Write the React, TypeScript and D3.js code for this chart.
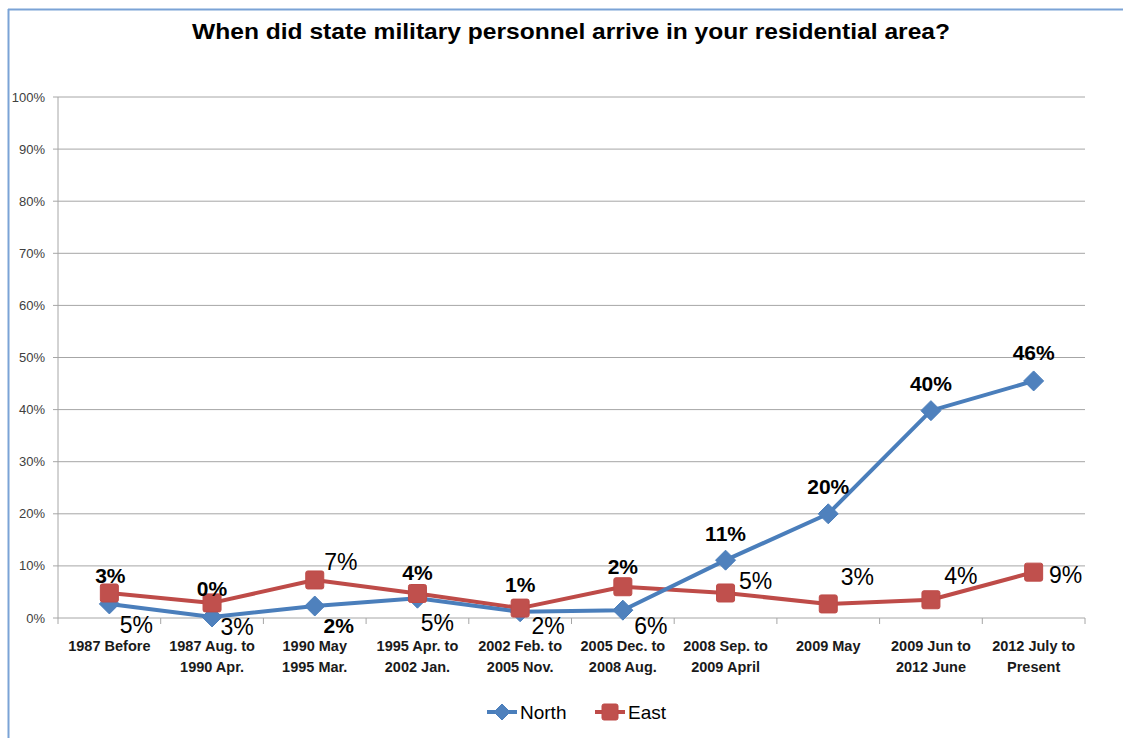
import React from "react";
import * as d3 from "d3";

const title = "When did state military personnel arrive in your residential area?";
const categories = [
  "1987 Before",
  "1987 Aug. to\n1990 Apr.",
  "1990 May\n1995 Mar.",
  "1995 Apr. to\n2002 Jan.",
  "2002 Feb. to\n2005 Nov.",
  "2005 Dec. to\n2008 Aug.",
  "2008 Sep. to\n2009 April",
  "2009 May",
  "2009 Jun to\n2012 June",
  "2012 July to\nPresent",
];
const northValues = [2.7, 0.2, 2.3, 3.8, 1.2, 1.5, 11.1, 20.0, 39.8, 45.5];
const eastValues = [4.8, 2.9, 7.3, 4.7, 1.9, 6.0, 4.8, 2.7, 3.5, 8.8];
const northLabels = ["3%", "0%", "2%", "4%", "1%", "2%", "11%", "20%", "40%", "46%"];
const eastLabels = ["5%", "3%", "7%", "5%", "2%", "6%", "5%", "3%", "4%", "9%"];
const yTicks = [0, 10, 20, 30, 40, 50, 60, 70, 80, 90, 100];

// label placement (offsets of label centre from point), layout only
const northLabelOffsets: [number, number][] = [
  [1, -28], [0, -28], [24, 19], [0, -26], [0, -27], [0, -44], [0, -27], [0, -27], [0, -27], [0, -28],
];
const eastLabelOffsets: [number, number][] = [
  [27, 32], [25, 24], [26, -18], [20, 29], [28, 18], [28, 39], [30, -12], [29, -27], [30, -24], [32, 3],
];

const W = 1123;
const H = 738;
const left = 58;
const right = 1085;
const top = 97;
const bottom = 618;
const font = "'Liberation Sans', Arial, sans-serif";
const blue = "#4A7EBB";
const blueM = "#4F81BD";
const red = "#BE4B48";
const redM = "#C0504D";

export default function App() {
  const x = d3.scaleBand<string>().domain(categories).range([left, right]).padding(0);
  const cx = (c: string) => (x(c) as number) + x.bandwidth() / 2;
  const y = d3.scaleLinear().domain([0, 100]).range([bottom, top]);
  const line = d3
    .line<number>()
    .x((_, i) => cx(categories[i]))
    .y((d) => y(d));

  const diamond = (px: number, py: number, r: number) =>
    `M${px},${py - r}L${px + r},${py}L${px},${py + r}L${px - r},${py}Z`;

  return (
    <svg
      width={W}
      height={H}
      style={{ position: "absolute", left: 0, top: 0, background: "#fff" }}
      fontFamily={font}
    >
      <rect x={0} y={0} width={W} height={H} fill="#fff" />
      {/* chart border */}
      <line x1={8.5} y1={9} x2={8.5} y2={H} stroke="#7BA3D6" strokeWidth={2} />
      <line x1={8} y1={9.5} x2={W} y2={9.5} stroke="#7BA3D6" strokeWidth={2} />

      <text
        x={192}
        y={39}
        fontSize={22}
        fontWeight="bold"
        fill="#000"
        textLength={758}
        lengthAdjust="spacingAndGlyphs"
      >
        {title}
      </text>

      {/* gridlines and y axis */}
      {yTicks.map((t) => (
        <g key={t}>
          <line x1={left - 5} x2={right} y1={y(t)} y2={y(t)} stroke="#A6A6A6" strokeWidth={1} />
          <text x={45} y={y(t) + 4.5} textAnchor="end" fontSize={13} fill="#404040">
            {t}%
          </text>
        </g>
      ))}
      <line x1={left} x2={left} y1={top} y2={bottom} stroke="#A6A6A6" strokeWidth={1} />
      {categories.map((c, i) => (
        <line
          key={"tk" + i}
          x1={(x(c) as number) + x.bandwidth()}
          x2={(x(c) as number) + x.bandwidth()}
          y1={bottom}
          y2={bottom + 6}
          stroke="#A6A6A6"
        />
      ))}
      <line x1={left} x2={left} y1={bottom} y2={bottom + 6} stroke="#A6A6A6" />

      {/* category labels */}
      {categories.map((c, i) => (
        <text key={"cl" + i} x={cx(c)} y={651} textAnchor="middle" fontSize={14.5} fontWeight="bold" fill="#1a1a1a">
          {c.split("\n").map((ln, j) => (
            <tspan key={j} x={cx(c)} dy={j === 0 ? 0 : 21}>
              {ln}
            </tspan>
          ))}
        </text>
      ))}

      {/* East series */}
      <path d={line(eastValues) as string} fill="none" stroke={red} strokeWidth={4} strokeLinejoin="round" />
      {/* North series */}
      <path d={line(northValues) as string} fill="none" stroke={blue} strokeWidth={4} strokeLinejoin="round" />
      {northValues.map((v, i) => (
        <path key={"nm" + i} d={diamond(cx(categories[i]), y(v), 10)} fill={blueM} stroke={blue} strokeWidth={1} />
      ))}
      {eastValues.map((v, i) => (
        <rect
          key={"em" + i}
          x={cx(categories[i]) - 9}
          y={y(v) - 9}
          width={18}
          height={18}
          rx={2}
          fill={redM}
          stroke={red}
          strokeWidth={1}
        />
      ))}

      {/* data labels */}
      {northValues.map((v, i) => (
        <text
          key={"nl" + i}
          x={cx(categories[i]) + northLabelOffsets[i][0]}
          y={y(v) + northLabelOffsets[i][1] + 7.5}
          textAnchor="middle"
          fontSize={21}
          fontWeight="bold"
          fill="#000"
        >
          {northLabels[i]}
        </text>
      ))}
      {eastValues.map((v, i) => (
        <text
          key={"el" + i}
          x={cx(categories[i]) + eastLabelOffsets[i][0]}
          y={y(v) + eastLabelOffsets[i][1] + 8}
          textAnchor="middle"
          fontSize={23}
          fill="#000"
        >
          {eastLabels[i]}
        </text>
      ))}

      {/* legend */}
      <g>
        <line x1={487} x2={517} y1={712} y2={712} stroke={blue} strokeWidth={4} />
        <path d={diamond(502, 712, 8)} fill={blueM} stroke={blue} />
        <text x={520} y={719} fontSize={19} fill="#000">North</text>
        <line x1={595} x2={625} y1={712} y2={712} stroke={red} strokeWidth={4} />
        <rect x={602} y={704} width={16} height={16} rx={2} fill={redM} stroke={red} />
        <text x={628} y={719} fontSize={19} fill="#000">East</text>
      </g>
    </svg>
  );
}
